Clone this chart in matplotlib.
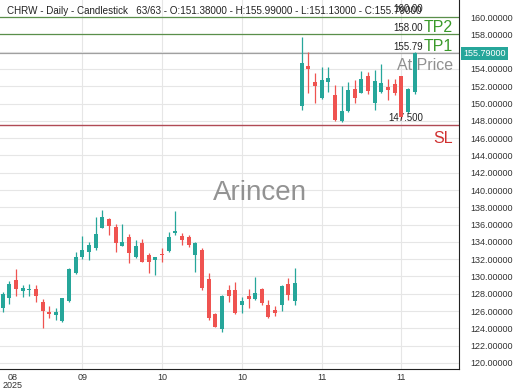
import matplotlib
matplotlib.use("Agg")
import matplotlib.pyplot as plt
import numpy as np

plt.rcParams['font.family'] = ['Liberation Sans', 'DejaVu Sans']

# OHLC values (63 daily candles)
opens = [126.32, 127.56, 129.56, 128.37, 128.44, 128.56, 127.10, 125.86, 125.55, 124.86,
         127.17, 130.37, 132.30, 132.80, 133.34, 135.65, 136.65, 135.77, 133.57, 134.61,
         132.30, 133.84, 132.49, 131.91, 132.61, 132.95, 135.00, 134.69, 134.61, 132.49,
         133.07, 129.71, 125.67, 123.90, 128.44, 128.44, 126.71, 127.75, 127.40, 128.52,
         126.71, 126.13, 126.71, 129.14, 127.21, 149.71, 154.33, 152.45, 150.60, 152.53,
         150.98, 148.01, 149.17, 151.71, 151.25, 153.18, 150.02, 151.37, 151.95, 152.26,
         153.18, 149.06, 151.38]
highs = [128.17, 129.48, 130.83, 129.02, 129.10, 129.02, 127.40, 126.59, 126.40, 127.56,
         131.03, 132.80, 134.69, 133.95, 136.92, 137.69, 136.80, 136.04, 136.07, 134.88,
         134.22, 134.34, 132.68, 132.30, 133.26, 135.11, 137.58, 135.00, 134.80, 134.03,
         133.26, 130.37, 125.75, 127.87, 129.02, 129.41, 127.67, 128.52, 129.98, 128.64,
         127.29, 126.59, 129.02, 129.79, 130.95, 157.65, 155.90, 153.49, 154.26, 154.26,
         152.14, 152.02, 152.53, 152.72, 153.80, 153.68, 153.87, 154.57, 152.80, 152.80,
         153.18, 151.76, 155.99]
lows = [125.86, 126.79, 127.79, 127.60, 127.79, 127.02, 124.09, 125.17, 124.98, 124.78,
        127.10, 130.30, 131.99, 131.91, 133.07, 135.57, 134.80, 132.88, 133.57, 131.53,
        132.10, 131.64, 130.37, 130.18, 131.72, 132.88, 134.80, 133.65, 133.45, 130.56,
        128.44, 124.98, 124.13, 123.63, 127.10, 125.67, 125.75, 126.32, 127.29, 126.71,
        125.17, 125.44, 126.06, 127.29, 126.71, 149.25, 151.17, 150.10, 150.48, 151.37,
        148.01, 147.90, 149.06, 150.02, 151.17, 151.10, 149.25, 151.25, 150.40, 150.98,
        148.17, 148.86, 151.13]
closes = [127.94, 129.14, 128.56, 128.71, 128.52, 127.79, 126.02, 125.71, 125.94, 127.48,
          130.83, 132.22, 133.07, 133.65, 134.88, 136.92, 135.88, 133.84, 133.95, 132.68,
          133.57, 131.64, 131.64, 132.22, 132.53, 134.61, 135.26, 134.22, 133.65, 133.84,
          128.71, 125.17, 124.20, 127.79, 127.79, 125.82, 127.21, 127.37, 128.14, 126.90,
          125.28, 125.82, 128.91, 127.87, 129.29, 154.64, 153.95, 152.02, 152.72, 152.91,
          148.09, 149.17, 151.56, 150.60, 152.80, 151.48, 152.64, 152.41, 151.56, 151.17,
          148.40, 151.64, 155.79]

tick_pos = [1.5, 12, 24, 36, 48, 60]
tick_labels = ["08\n2025", "09", "10", "10", "11", "11"]

# price levels
level_vals = [160.00, 158.00, 155.79, 147.50]
level_names = ["", "TP2", "TP1", "SL"]
level_texts = ["160.00", "158.00", "155.79", "147.500"]

green = '#26a69a'
red = '#ef5350'

fig = plt.figure(figsize=(5.2, 3.9), dpi=100)
ax = fig.add_axes([0.0, 0.054, 0.883, 0.946])

x = np.arange(len(opens))
o = np.array(opens)
c = np.array(closes)
colors = [green if cc >= oo else red for oo, cc in zip(o, c)]
bottoms = np.minimum(o, c)
heights = np.maximum(np.abs(c - o), 0.08)

ax.vlines(x, lows, highs, colors=colors, linewidth=0.9, zorder=3)
ax.bar(x, heights, bottom=bottoms, width=0.6, color=colors, zorder=4)

ymin, ymax = 119.31, 161.97
ax.set_xlim(-0.4, 68.7)
ax.set_ylim(ymin, ymax)

# grid
yt = np.arange(120, 161, 2)
ax.set_yticks(yt)
ax.yaxis.tick_right()
# the 156 label sits under the current price box
ax.set_yticklabels(["" if v == 156 else f"{v:.5f}" for v in yt], fontsize=6.5, color='#333333')
ax.grid(axis='y', color='#e6e6e6', linewidth=0.8, zorder=0)
for t in tick_pos[1:]:
    ax.axvline(t, color='#e6e6e6', linewidth=0.8, zorder=0)
ax.set_xticks(tick_pos)
ax.set_xticklabels(tick_labels, fontsize=6.5, color='#333333', linespacing=0.9)
ax.tick_params(length=0, pad=3)
ax.tick_params(axis='y', pad=8)

for side in ['top', 'left']:
    ax.spines[side].set_visible(False)
ax.spines['right'].set_color('#222222')
ax.spines['bottom'].set_color('#222222')

# levels
ax.axhline(level_vals[0], color='#5a8f4a', linewidth=0.9, zorder=2)
ax.axhline(level_vals[1], color='#5a8f4a', linewidth=0.9, zorder=2)
ax.axhline(level_vals[2], color='#a0a0a0', linewidth=0.9, zorder=2)
ax.axhline(level_vals[3], color='#b04a55', linewidth=1.0, zorder=2)

xn = 63.3
xl = 67.8
ax.text(xn, level_vals[0] + 0.4, level_texts[0], fontsize=7, ha='right', va='bottom', color='#222222')
ax.text(xn, level_vals[1] + 0.15, level_texts[1], fontsize=7, ha='right', va='bottom', color='#222222')
ax.text(xl, level_vals[1] - 0.08, level_names[1], fontsize=11.5, ha='right', va='bottom', color='#3a9a2a')
ax.text(xn, level_vals[2] + 0.15, level_texts[2], fontsize=7, ha='right', va='bottom', color='#222222')
ax.text(xl, level_vals[2] - 0.08, level_names[2], fontsize=11.5, ha='right', va='bottom', color='#3a9a2a')
ax.text(xl, level_vals[2] - 0.55, "At Price", fontsize=11.5, ha='right', va='top', color='#909090', zorder=5)
ax.text(63.3, level_vals[3] + 0.2, level_texts[3], fontsize=7, ha='right', va='bottom', color='#222222')
ax.text(xl, level_vals[3] - 0.7, level_names[3], fontsize=11.5, ha='right', va='top', color='#d03030')

# current price box on the axis
ax.text(1.009, (closes[-1] - ymin) / (ymax - ymin), f"{closes[-1]:.5f}",
        transform=ax.transAxes, fontsize=6.5, color='white', ha='left', va='center',
        bbox=dict(boxstyle='square,pad=0.25', facecolor=green, edgecolor='none'), zorder=6)

# header and watermark
ax.text(0.016, 0.985, "CHRW - Daily - Candlestick   63/63 - O:151.38000 - H:155.99000 - L:151.13000 - C:155.79000",
        transform=ax.transAxes, fontsize=7.1, ha='left', va='top', color='#222222')
ax.text(0.566, 0.477, "Arincen", transform=ax.transAxes, fontsize=20, ha='center', va='center',
        color='#808080', alpha=0.85)

fig.savefig("out.png", dpi=100)
